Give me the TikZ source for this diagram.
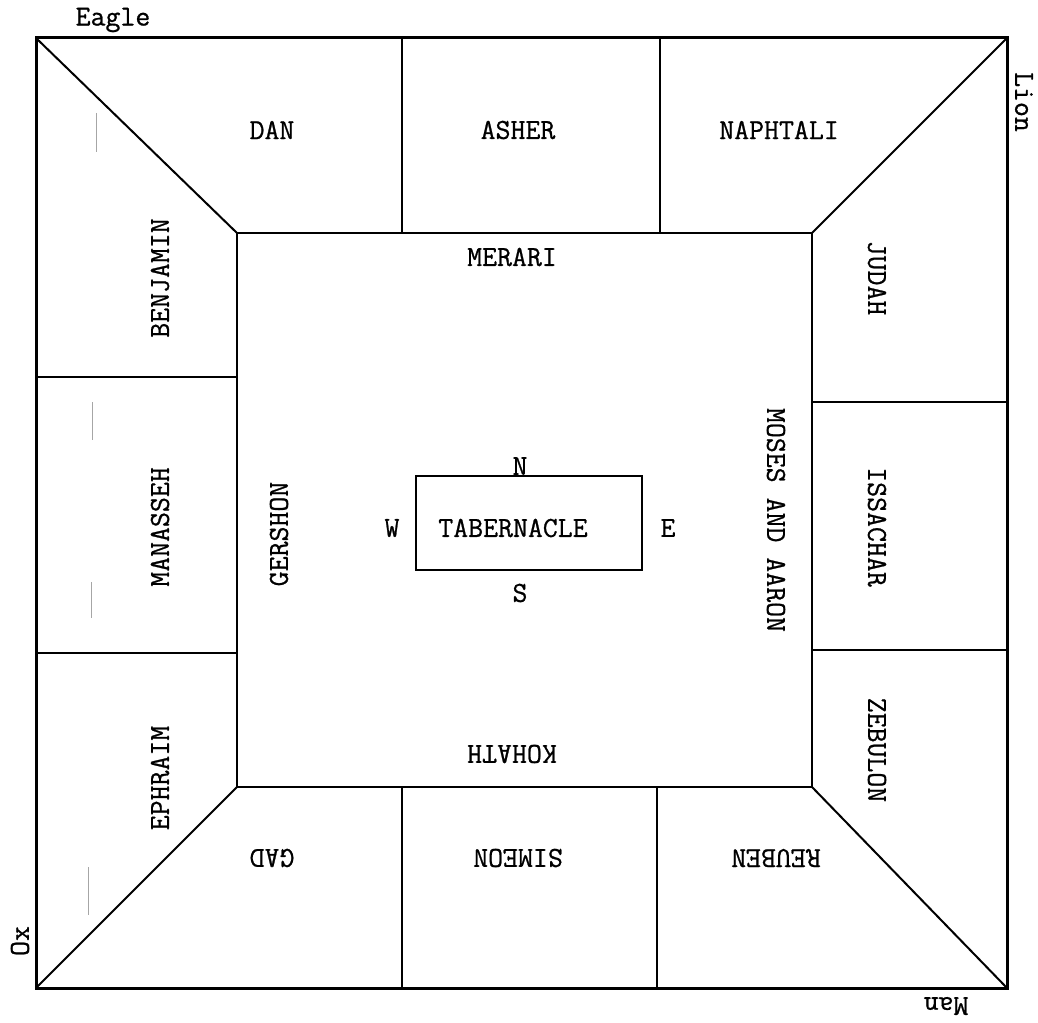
\documentclass[tikz,border=0pt]{standalone}
\usepackage{fontspec}
\newfontfamily\typew[FakeBold=0.8]{Latin Modern Mono}
\begin{document}
\begin{tikzpicture}[x=1pt,y=-1pt,
  lbl/.style={font=\typew\fontsize{29}{29}\selectfont, inner sep=0pt},
  outer/.style={line width=3pt},
  edge/.style={line width=2pt},
  faint/.style={draw=black!35, line width=1pt}]
\useasboundingbox (0,0) rectangle (1038,1022);
% outer corners
\coordinate (O1) at (36,38);
\coordinate (O2) at (1007,38);
\coordinate (O3) at (1007,988);
\coordinate (O4) at (36,988);
% inner corners
\coordinate (I1) at (237,233);
\coordinate (I2) at (812,233);
\coordinate (I3) at (812,787);
\coordinate (I4) at (237,787);
\draw[outer] (O1) -- (O2) -- (O3) -- (O4) -- cycle;
\draw[edge] (I1) -- (I2) -- (I3) -- (I4) -- cycle;
\draw[edge] (O1) -- (I1);
\draw[edge] (O2) -- (I2);
\draw[edge] (O3) -- (I3);
\draw[edge] (O4) -- (I4);
% dividers
\coordinate (T1a) at (402,38); \coordinate (T1b) at (402,233);
\coordinate (T2a) at (660,38); \coordinate (T2b) at (660,233);
\coordinate (B1a) at (402,787); \coordinate (B1b) at (402,988);
\coordinate (B2a) at (657,787); \coordinate (B2b) at (657,988);
\coordinate (L1a) at (36,377); \coordinate (L1b) at (237,377);
\coordinate (L2a) at (36,653); \coordinate (L2b) at (237,653);
\coordinate (R1a) at (812,402); \coordinate (R1b) at (1007,402);
\coordinate (R2a) at (812,650); \coordinate (R2b) at (1007,650);
\draw[edge] (T1a) -- (T1b); \draw[edge] (T2a) -- (T2b);
\draw[edge] (B1a) -- (B1b); \draw[edge] (B2a) -- (B2b);
\draw[edge] (L1a) -- (L1b); \draw[edge] (L2a) -- (L2b);
\draw[edge] (R1a) -- (R1b); \draw[edge] (R2a) -- (R2b);
% faint marks
\coordinate (f1a) at (96,113); \coordinate (f1b) at (96,152);
\coordinate (f2a) at (92,402); \coordinate (f2b) at (92,440);
\coordinate (f3a) at (91,582); \coordinate (f3b) at (91,618);
\coordinate (f4a) at (88,867); \coordinate (f4b) at (88,915);
\draw[faint] (f1a) -- (f1b); \draw[faint] (f2a) -- (f2b);
\draw[faint] (f3a) -- (f3b); \draw[faint] (f4a) -- (f4b);
% tabernacle
\node[draw, line width=1.5pt, minimum width=226pt, minimum height=94pt, inner sep=0pt] (tab) at (529,523) {};
\node[lbl] (tabtxt) at (513,528) {TABERNACLE};
\node[lbl] (N) at (520,466) {N};
\node[lbl] (S) at (520,593) {S};
\node[lbl] (W) at (392,528) {W};
\node[lbl] (E) at (668,528) {E};
% corner labels
\node[lbl] (eagle) at (113,20) {Eagle};
\node[lbl, rotate=-90] (lion) at (1024,102) {Lion};
\node[lbl, rotate=90] (ox) at (20,941) {Ox};
\node[lbl, rotate=180] (man) at (946,1006) {Man};
% tribes
\node[lbl] (dan) at (272,130) {DAN};
\node[lbl] (asher) at (518,130) {ASHER};
\node[lbl] (naph) at (779,130) {NAPHTALI};
\node[lbl, rotate=90] (benj) at (160,278) {BENJAMIN};
\node[lbl, rotate=90] (man2) at (160,527) {MANASSEH};
\node[lbl, rotate=90] (ephr) at (160,778) {EPHRAIM};
\node[lbl, rotate=-90] (judah) at (877,278) {JUDAH};
\node[lbl, rotate=-90] (issa) at (877,527) {ISSACHAR};
\node[lbl, rotate=-90] (zeb) at (877,750) {ZEBULON};
\node[lbl, rotate=180] (gad) at (272,858) {GAD};
\node[lbl, rotate=180] (sim) at (518,858) {SIMEON};
\node[lbl, rotate=180] (reub) at (776,858) {REUBEN};
% levites
\node[lbl] (merari) at (512,257) {MERARI};
\node[lbl, rotate=90] (gersh) at (279,534) {GERSHON};
\node[lbl, rotate=-90] (moses) at (776,520) {MOSES AND AARON};
\node[lbl, rotate=180] (kohath) at (512,754) {KOHATH};
\end{tikzpicture}
\end{document}
